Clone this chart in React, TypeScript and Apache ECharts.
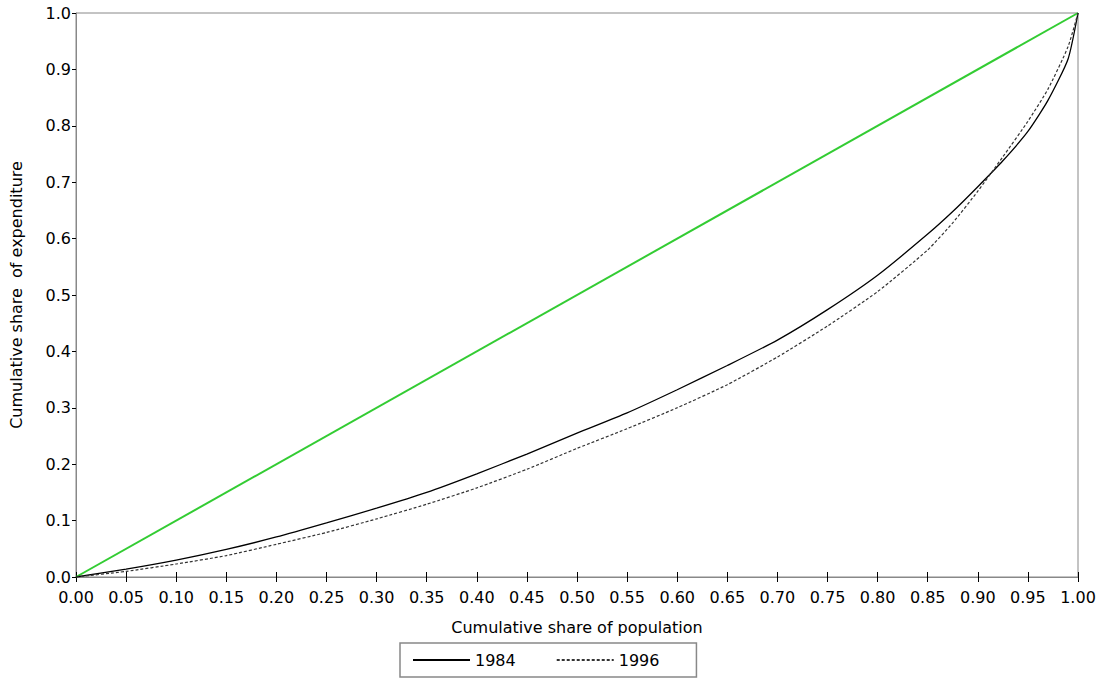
import React, { useEffect, useRef } from "react";
import * as echarts from "echarts";

const popShare = [0, 0.05, 0.1, 0.15, 0.2, 0.25, 0.3, 0.35, 0.4, 0.45, 0.5, 0.55, 0.6, 0.65, 0.7, 0.75, 0.8, 0.85, 0.875, 0.9, 0.925, 0.95, 0.97, 0.99, 1.0];
const exp1984 = [0, 0.014, 0.03, 0.049, 0.071, 0.096, 0.122, 0.15, 0.183, 0.218, 0.255, 0.291, 0.332, 0.375, 0.42, 0.474, 0.535, 0.608, 0.648, 0.692, 0.738, 0.79, 0.845, 0.918, 1.0];
const exp1996 = [0, 0.01, 0.023, 0.038, 0.058, 0.079, 0.103, 0.129, 0.158, 0.191, 0.228, 0.263, 0.3, 0.341, 0.39, 0.445, 0.506, 0.58, 0.628, 0.684, 0.745, 0.808, 0.865, 0.94, 1.0];
const equality = [[0, 0], [1, 1]];
const seriesNames = ["1984", "1996"];

const FONT = "DejaVu Sans";

export default function App() {
  const ref = useRef<HTMLDivElement>(null);
  useEffect(() => {
    if (!ref.current) return;
    const chart = echarts.init(ref.current, null, { renderer: "svg" });
    const pts = (ys: number[]) => popShare.map((x, i) => [x, ys[i]]);
    chart.setOption({
      animation: false,
      backgroundColor: "#ffffff",
      textStyle: { fontFamily: FONT, color: "#000" },
      grid: {
        left: 75,
        top: 13,
        right: 27,
        bottom: 102,
        show: true,
        borderColor: "#888888",
        borderWidth: 1,
      },
      legend: {
        data: seriesNames,
        left: 400,
        top: 643,
        orient: "horizontal",
        itemWidth: 57,
        itemHeight: 10,
        itemGap: 40,
        padding: [9, 37, 9, 12],
        borderColor: "#888888",
        borderWidth: 1.5,
        itemStyle: { opacity: 0, color: "transparent", borderWidth: 0 },
        textStyle: { fontFamily: FONT, fontSize: 16, color: "#000" },
        selectedMode: false,
      },
      xAxis: [
        {
          type: "value",
          min: 0,
          max: 1,
          interval: 0.05,
          name: "Cumulative share of population",
          nameLocation: "middle",
          nameGap: 42,
          nameTextStyle: { fontFamily: FONT, fontSize: 16, color: "#000" },
          axisLine: { show: true, lineStyle: { color: "#888888", width: 1 } },
          axisTick: { show: true, inside: true, length: 5, lineStyle: { color: "#000", width: 1 } },
          axisLabel: {
            fontFamily: FONT,
            fontSize: 16,
            color: "#000",
            margin: 12,
            formatter: (v: number) => v.toFixed(2),
          },
          splitLine: { show: false },
        },
        {
          type: "value",
          min: 0,
          max: 1,
          interval: 0.05,
          position: "bottom",
          axisLine: { show: false },
          axisTick: { show: true, inside: false, length: 5, lineStyle: { color: "#000", width: 1 } },
          axisLabel: { show: false },
          splitLine: { show: false },
        },
      ],
      yAxis: {
        type: "value",
        min: 0,
        max: 1,
        interval: 0.1,
        name: "Cumulative share  of expenditure",
        nameLocation: "middle",
        nameGap: 52,
        nameTextStyle: { fontFamily: FONT, fontSize: 16, color: "#000" },
        axisLine: { show: true, lineStyle: { color: "#888888", width: 1 } },
        axisTick: { show: true, inside: false, length: 4, lineStyle: { color: "#000", width: 1 } },
        axisLabel: {
          fontFamily: FONT,
          fontSize: 16,
          color: "#000",
          margin: 5,
          formatter: (v: number) => v.toFixed(1),
        },
        splitLine: { show: false },
      },
      series: [
        {
          name: "equality",
          type: "line",
          data: equality,
          symbol: "none",
          lineStyle: { color: "#33cc33", width: 2 },
          z: 3,
        },
        {
          name: seriesNames[0],
          type: "line",
          data: pts(exp1984),
          symbol: "none",
          smooth: 0.2,
          color: "#000000",
          lineStyle: { color: "#000000", width: 1.3, type: "solid" },
          z: 4,
        },
        {
          name: seriesNames[1],
          type: "line",
          data: pts(exp1996),
          symbol: "none",
          smooth: 0.2,
          color: "#333333",
          lineStyle: { color: "#333333", width: 1.2, type: [3, 2] },
          z: 4,
        },
      ],
    });
    return () => chart.dispose();
  }, []);
  return (
    <div
      ref={ref}
      style={{ position: "fixed", left: 0, top: 0, width: 1105, height: 679, background: "#fff" }}
    />
  );
}
